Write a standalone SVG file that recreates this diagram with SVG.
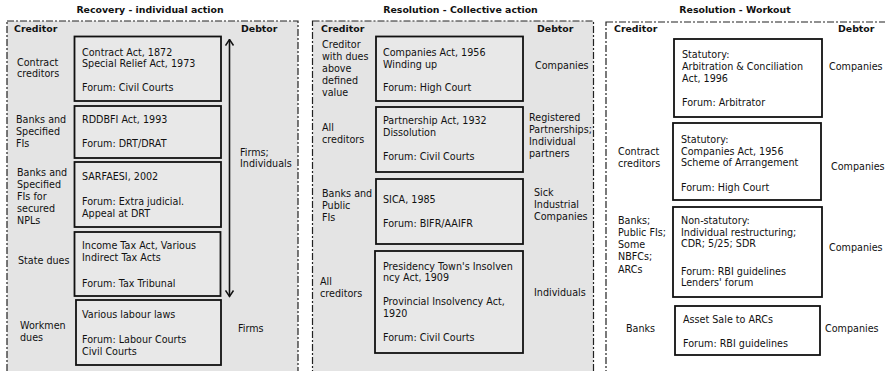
<svg xmlns="http://www.w3.org/2000/svg" width="885" height="371" viewBox="0 0 885 371">
<style>
text{font-family:"DejaVu Sans","Noto Sans",sans-serif;font-size:9.6px;fill:#111}
.h{font-weight:bold;font-size:9.4px}
.t{font-weight:bold;font-size:9.4px;text-anchor:middle}
.panel{stroke:#222;stroke-width:1.2;stroke-dasharray:7 2 2 2}
.box{fill:#e8e8e8;stroke:#111;stroke-width:1.8}
.wbox{fill:#fff;stroke:#111;stroke-width:1.8}
</style>
<defs>
<marker id="ah" viewBox="0 0 10 10" refX="9" refY="5" markerWidth="10" markerHeight="10" markerUnits="userSpaceOnUse" orient="auto-start-reverse">
<path d="M3,1 L9,5 L3,9" fill="none" stroke="#111" stroke-width="1.5"/>
</marker>
</defs>
<rect width="885" height="371" fill="#fff"/>

<g id="panel-recovery">
<rect class="panel" x="7" y="21" width="291" height="365" fill="#e4e4e4"/>
<text class="t" x="150" y="13.3">Recovery - individual action</text>
<text class="h" x="14" y="32.3">Creditor</text>
<text class="h" x="241" y="32.3">Debtor</text>
</g>
<g id="panel-collective">
<rect class="panel" x="312.5" y="21" width="281" height="365" fill="#e4e4e4"/>
<text class="t" x="460.5" y="13.3">Resolution - Collective action</text>
<text class="h" x="321" y="32.3">Creditor</text>
<text class="h" x="537" y="32.3">Debtor</text>
</g>
<g id="panel-workout">
<rect class="panel" x="606" y="22" width="300" height="365" fill="#fff"/>
<text class="t" x="735" y="13.3">Resolution - Workout</text>
<text class="h" x="614" y="32.3">Creditor</text>
<text class="h" x="838" y="32.3">Debtor</text>
</g>

<g id="connectors">
<line x1="229.5" y1="39.5" x2="229.5" y2="296.5" stroke="#111" stroke-width="1.6" marker-start="url(#ah)" marker-end="url(#ah)"/>
</g>

<!-- Panel 1 -->
<g id="r1">
<rect class="box" x="74.5" y="36.5" width="146.5" height="64.5"/>
<text x="82" y="55.5">Contract Act, 1872</text>
<text x="82" y="67.3">Special Relief Act, 1973</text>
<text x="82" y="91">Forum: Civil Courts</text>
<text x="17" y="65.5">Contract</text>
<text x="17" y="77.3">creditors</text>
</g>
<g id="r2">
<rect class="box" x="74.5" y="106" width="146.5" height="52"/>
<text x="82" y="122.5">RDDBFI Act, 1993</text>
<text x="82" y="146.5">Forum: DRT/DRAT</text>
<text x="16" y="122.5">Banks and</text>
<text x="16" y="134.8">Specified</text>
<text x="16" y="147.1">FIs</text>
</g>
<g id="r3">
<rect class="box" x="74.5" y="162" width="146.5" height="65"/>
<text x="82" y="179.5">SARFAESI, 2002</text>
<text x="82" y="204.5">Forum: Extra judicial.</text>
<text x="82" y="216.5">Appeal at DRT</text>
<text x="17" y="175.5">Banks and</text>
<text x="17" y="187.5">Specified</text>
<text x="17" y="199.5">FIs for</text>
<text x="17" y="211.5">secured</text>
<text x="17" y="223.5">NPLs</text>
</g>
<g id="r4">
<rect class="box" x="74.5" y="232" width="146" height="64"/>
<text x="82" y="248.5">Income Tax Act, Various</text>
<text x="82" y="260.5">Indirect Tax Acts</text>
<text x="82" y="286.5">Forum: Tax Tribunal</text>
<text x="18" y="263.5">State dues</text>
</g>
<g id="r5">
<rect class="box" x="76" y="300" width="145" height="65"/>
<text x="82" y="317.5">Various labour laws</text>
<text x="82" y="342.5">Forum: Labour Courts</text>
<text x="82" y="354.5">Civil Courts</text>
<text x="20" y="328.5">Workmen</text>
<text x="20" y="340.5">dues</text>
</g>
<g id="debtor-firms-individuals">
<text x="240" y="155.5">Firms;</text>
<text x="240" y="167">Individuals</text>
</g>
<g id="debtor-firms">
<text x="238" y="331.5">Firms</text>
</g>

<!-- Panel 2 -->
<g id="c1">
<rect class="box" x="376" y="36.5" width="147" height="64.5"/>
<text x="383" y="56">Companies Act, 1956</text>
<text x="383" y="67.8">Winding up</text>
<text x="383" y="91">Forum: High Court</text>
<text x="322" y="47.5">Creditor</text>
<text x="322" y="59.7">with dues</text>
<text x="322" y="71.9">above</text>
<text x="322" y="84.1">defined</text>
<text x="322" y="96.3">value</text>
<text x="535" y="68.5">Companies</text>
</g>
<g id="c2">
<rect class="box" x="376" y="107" width="147" height="65"/>
<text x="383" y="124">Partnership Act, 1932</text>
<text x="383" y="135.8">Dissolution</text>
<text x="383" y="160">Forum: Civil Courts</text>
<text x="322" y="130.5">All</text>
<text x="322" y="142.5">creditors</text>
<text x="529" y="121">Registered</text>
<text x="529" y="133">Partnerships;</text>
<text x="529" y="145">Individual</text>
<text x="529" y="157">partners</text>
</g>
<g id="c3">
<rect class="box" x="376" y="179" width="147" height="65"/>
<text x="383" y="202.5">SICA, 1985</text>
<text x="383" y="226.5">Forum: BIFR/AAIFR</text>
<text x="322" y="196.5">Banks and</text>
<text x="322" y="208.8">Public</text>
<text x="322" y="221.1">FIs</text>
<text x="534" y="195.5">Sick</text>
<text x="534" y="207.5">Industrial</text>
<text x="534" y="219.5">Companies</text>
</g>
<g id="c4">
<rect class="box" x="375" y="251" width="148" height="102"/>
<text x="383" y="269.5">Presidency Town's Insolven</text>
<text x="383" y="281.3">ncy Act, 1909</text>
<text x="383" y="305">Provincial Insolvency Act,</text>
<text x="383" y="316.8">1920</text>
<text x="383" y="340.5">Forum: Civil Courts</text>
<text x="320" y="284.5">All</text>
<text x="320" y="296.5">creditors</text>
<text x="534" y="295.5">Individuals</text>
</g>

<!-- Panel 3 -->
<g id="w1">
<rect class="wbox" x="674" y="39" width="148" height="78"/>
<text x="682" y="57.5">Statutory:</text>
<text x="682" y="69.5">Arbitration &amp; Conciliation</text>
<text x="682" y="81.5">Act, 1996</text>
<text x="682" y="106">Forum: Arbitrator</text>
<text x="829" y="69.5">Companies</text>
</g>
<g id="w2">
<rect class="wbox" x="673" y="123" width="148" height="77"/>
<text x="681" y="142.5">Statutory:</text>
<text x="681" y="154.5">Companies Act, 1956</text>
<text x="681" y="166.3">Scheme of Arrangement</text>
<text x="681" y="190.5">Forum: High Court</text>
<text x="618" y="154.5">Contract</text>
<text x="618" y="166.5">creditors</text>
<text x="831" y="169.5">Companies</text>
</g>
<g id="w3">
<rect class="wbox" x="673" y="207" width="149" height="90"/>
<text x="681" y="223.5">Non-statutory:</text>
<text x="681" y="235.5">Individual restructuring;</text>
<text x="681" y="247.3">CDR; 5/25; SDR</text>
<text x="681" y="274.5">Forum: RBI guidelines</text>
<text x="681" y="286.3">Lenders' forum</text>
<text x="618" y="223.5">Banks;</text>
<text x="618" y="235.8">Public FIs;</text>
<text x="618" y="248.1">Some</text>
<text x="618" y="260.4">NBFCs;</text>
<text x="618" y="272.7">ARCs</text>
<text x="829" y="250.5">Companies</text>
</g>
<g id="w4">
<rect class="wbox" x="675" y="306" width="145" height="49"/>
<text x="683" y="322.5">Asset Sale to ARCs</text>
<text x="683" y="346.5">Forum: RBI guidelines</text>
<text x="626" y="331.5">Banks</text>
<text x="825" y="331.5">Companies</text>
</g>
</svg>
